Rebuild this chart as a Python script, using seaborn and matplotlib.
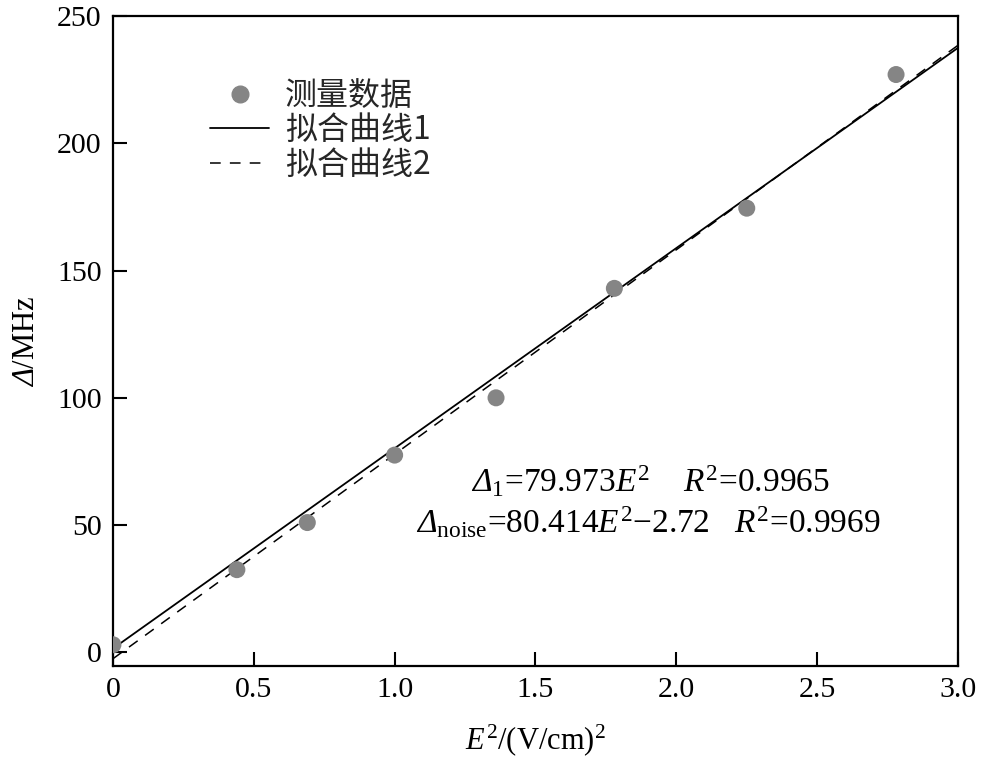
import matplotlib
matplotlib.use("Agg")
import matplotlib.pyplot as plt
import seaborn as sns
import pandas as pd
from matplotlib.lines import Line2D

# data
e2 = [0.0, 0.44, 0.69, 1.0, 1.36, 1.78, 2.25, 2.78]
delta = [3.0, 32.5, 51.0, 77.5, 100.0, 143.0, 174.5, 227.0]
fit_x = [0.0, 3.0]
fit1_y = [1.5, 237.5]
fit2_y = [-2.5, 238.5]
xticks = [0, 0.5, 1.0, 1.5, 2.0, 2.5, 3.0]
xticklabels = ["0", "0.5", "1.0", "1.5", "2.0", "2.5", "3.0"]
yticks = [0, 50, 100, 150, 200, 250]
labels = ["测量数据", "拟合曲线1", "拟合曲线2"]

sns.set_theme(style="white")
plt.rcParams['font.family'] = ['Liberation Serif', 'Noto Sans CJK SC', 'DejaVu Sans']
plt.rcParams['mathtext.fontset'] = 'custom'
plt.rcParams['mathtext.rm'] = 'Liberation Serif'
plt.rcParams['mathtext.it'] = 'Liberation Serif:italic'
plt.rcParams['mathtext.sf'] = 'Liberation Serif:italic'
plt.rcParams['mathtext.bf'] = 'Liberation Serif:bold'

fig = plt.figure(figsize=(9.82, 7.61), dpi=100)
ax = fig.add_axes([0.115, 0.125, 0.8606, 0.854])

df = pd.DataFrame({"x": e2, "y": delta})
sns.scatterplot(data=df, x="x", y="y", ax=ax, color="#858585", s=150,
                edgecolor="none", zorder=3)
sns.lineplot(x=fit_x, y=fit1_y, ax=ax, color="black", lw=1.3, zorder=2)
sns.lineplot(x=fit_x, y=fit2_y, ax=ax, color="black", lw=1.1,
             linestyle=(0, (7, 6)), zorder=2)

ax.set_xlim(0, 3.0)
ax.set_ylim(-5.3, 250)
ax.set_xticks(xticks)
ax.set_xticklabels(xticklabels)
ax.set_yticks(yticks)
ax.tick_params(axis='both', direction='in', length=10, width=1.5,
               labelsize=21.5, colors='black', pad=8,
               top=False, right=False, bottom=True, left=True)
for s in ax.spines.values():
    s.set_color('black')
    s.set_linewidth(1.6)

ax.set_xlabel(r"$\mathit{E}^{2}$/(V/cm)$^{2}$", fontsize=22, color='black', labelpad=14)
ax.set_ylabel(r"$\mathsf{\Delta}$/MHz", fontsize=22, color='black', labelpad=12)

handles = [
    Line2D([], [], marker='o', color='#858585', linestyle='none', markersize=12),
    Line2D([], [], color='black', lw=1.3),
    Line2D([], [], color='black', lw=1.1, linestyle=(0, (7, 6))),
]
leg = ax.legend(handles, labels, loc='upper left', bbox_to_anchor=(0.081, 0.946),
                frameon=False, handlelength=1.85, handletextpad=0.5,
                labelspacing=0.08, prop={'family': ['Noto Sans CJK SC'], 'size': 23})

ax.text(0.636, 0.283, r"$\mathsf{\Delta}_1$=79.973$\mathit{E}^2$    $\mathit{R}^2$=0.9965",
        transform=ax.transAxes, ha='center', va='center', fontsize=24, color='black')
ax.text(0.634, 0.22, r"$\mathsf{\Delta}_{\rm noise}$=80.414$\mathit{E}^2$$-$2.72   $\mathit{R}^2$=0.9969",
        transform=ax.transAxes, ha='center', va='center', fontsize=24, color='black')

fig.savefig("out.png", dpi=100)
